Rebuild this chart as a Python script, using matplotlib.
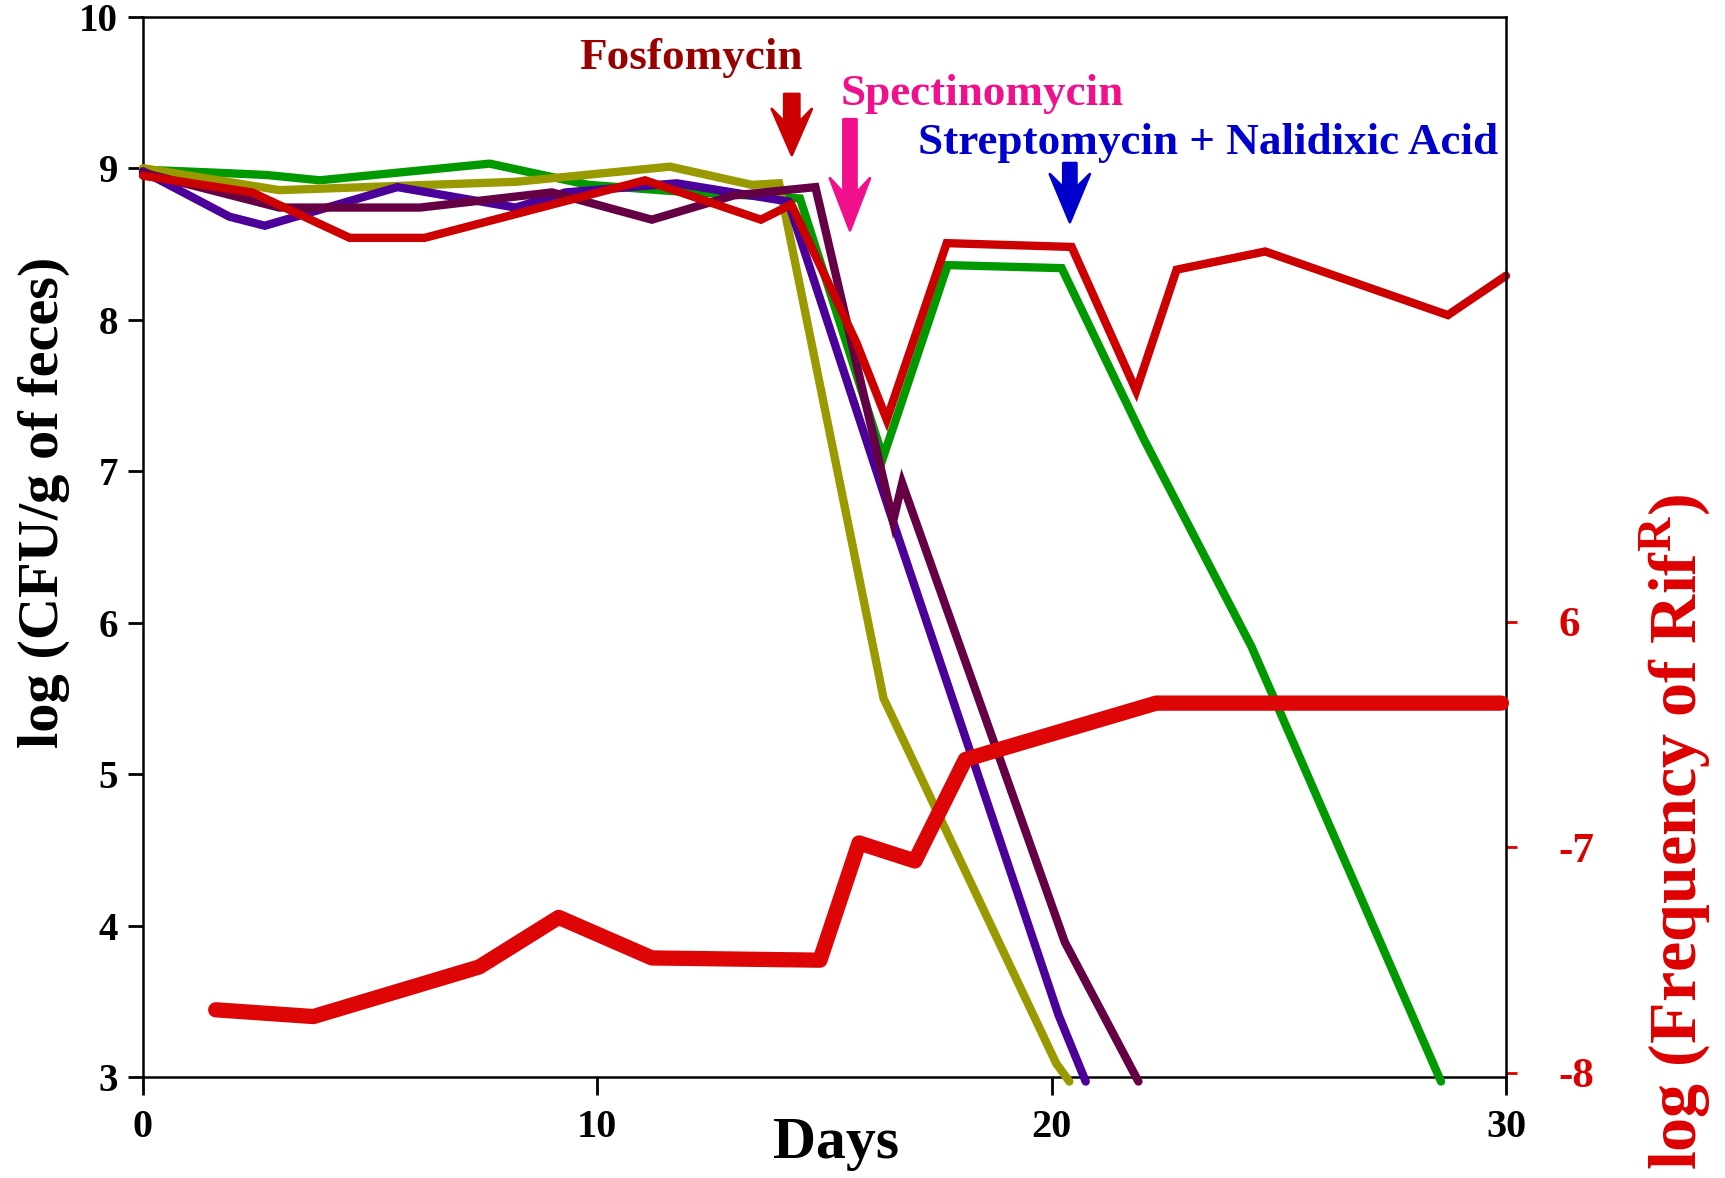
import matplotlib
matplotlib.use("Agg")
import matplotlib.pyplot as plt
import matplotlib.transforms as mtrans
from matplotlib.patches import FancyArrow

plt.rcParams['font.family'] = ['Liberation Serif', 'DejaVu Serif']
plt.rcParams['font.weight'] = 'bold'
plt.rcParams['mathtext.fontset'] = 'custom'
plt.rcParams['mathtext.rm'] = 'Liberation Serif:bold'
plt.rcParams['mathtext.bf'] = 'Liberation Serif:bold'

# --- data ---
green_days = [0, 1.62, 2.72, 3.89, 7.63, 9.8, 11.6, 14.46, 16.29, 17.71, 20.22, 22.03, 24.4, 28.57]
green_cfu = [8.99, 8.97, 8.955, 8.92, 9.03, 8.89, 8.85, 8.80, 7.09, 8.36, 8.34, 7.21, 5.84, 2.97]

olive_days = [0, 3.0, 8.2, 11.6, 13.4, 14.0, 16.3, 20.1, 20.39]
olive_cfu = [9.0, 8.855, 8.91, 9.01, 8.89, 8.9, 5.5, 3.09, 2.97]

purple_days = [0, 1.9, 2.68, 5.6, 8.2, 9.3, 11.75, 14.2, 16.46, 20.15, 20.75]
purple_cfu = [8.98, 8.68, 8.62, 8.875, 8.74, 8.84, 8.9, 8.78, 6.71, 3.41, 2.97]

maroon_days = [0, 3.0, 6.1, 9.0, 11.2, 13.0, 14.8, 16.51, 16.71, 20.29, 21.91]
maroon_cfu = [8.97, 8.74, 8.74, 8.84, 8.66, 8.82, 8.875, 6.67, 6.92, 3.89, 2.97]

red_days = [0, 2.4, 4.55, 6.2, 11.05, 13.6, 14.27, 15.7, 16.37, 17.69, 20.44, 21.86, 22.75, 24.7, 28.72, 30]
red_cfu = [8.95, 8.84, 8.54, 8.54, 8.92, 8.66, 8.76, 7.85, 7.34, 8.505, 8.48, 7.53, 8.33, 8.45, 8.03, 8.29]

rif_days = [1.6, 3.75, 7.4, 9.15, 11.2, 14.9, 15.76, 16.99, 18.1, 22.3, 29.9]
rif_freq = [-7.72, -7.75, -7.53, -7.31, -7.49, -7.50, -6.98, -7.06, -6.61, -6.36, -6.36]

left_ticks = [3, 4, 5, 6, 7, 8, 9, 10]
day_ticks = [0, 10, 20, 30]
right_ticks = [-8, -7, -6]
right_labels = ['-8', '-7', '6']

fig = plt.figure(figsize=(17.25, 11.78), dpi=100)
ax = fig.add_axes([143 / 1725, 1 - 1077 / 1178, (1506 - 143) / 1725, (1077 - 16.7) / 1178])

lw = 6
for d, v, c in [(green_days, green_cfu, '#009900'),
                (olive_days, olive_cfu, '#999900'),
                (purple_days, purple_cfu, '#4a0099'),
                (maroon_days, maroon_cfu, '#660044'),
                (red_days, red_cfu, '#cc0000')]:
    ax.plot(d, v, color=c, lw=lw, solid_capstyle='round', solid_joinstyle='miter', clip_on=False, zorder=3)

ax.set_xlim(0, 30)
ax.set_ylim(3, 10)
ax.set_xticks(day_ticks)
ax.set_yticks(left_ticks)
ax.tick_params(axis='y', direction='out', length=11, width=2, pad=7, labelsize=28)
ax.tick_params(axis='x', direction='out', length=13, width=2, pad=10, labelsize=29)
for s in ax.spines.values():
    s.set_linewidth(1.8)
ax.spines['right'].set_visible(False)

ax2 = ax.twinx()
ax2.plot(rif_days, rif_freq, color='#dd0505', lw=11, solid_capstyle='round', solid_joinstyle='round', clip_on=False, zorder=4)
ax2.set_ylim(-8.018, -3.316)
ax2.set_yticks(right_ticks)
ax2.set_yticklabels(right_labels)
ax2.tick_params(axis='y', direction='out', length=8, width=2, color='#dd0000', labelcolor='#dd0000', pad=30, labelsize=31)
for k in ['left', 'top', 'bottom']:
    ax2.spines[k].set_visible(False)
ax2.spines['right'].set_linewidth(1.8)

fig.text(836 / 1725, 1 - 1144 / 1178, 'Days', ha='center', va='center', fontsize=43)
fig.text(44 / 1725, 1 - 502 / 1178, 'log (CFU/g of feces)', rotation=90, ha='center', va='center', fontsize=42)
fig.text(1676 / 1725, 1 - 494 / 1178, r'log (Frequency of Rif$^{\mathbf{R}}$)', rotation=90,
         ha='center', va='top', fontsize=49, color='#dd0000')


def drug_arrow(day, val, length_px, head_len_px, color, shaft_px):
    tr = fig.dpi_scale_trans + mtrans.ScaledTranslation(day, val, ax.transData)
    L = length_px / 100
    arr = FancyArrow(0, L, 0, -L, width=shaft_px / 100, head_width=0.40, head_length=head_len_px / 100,
                     overhang=0.28, length_includes_head=True, transform=tr, facecolor=color,
                     edgecolor=color, lw=2, joinstyle='round', clip_on=False, zorder=5)
    ax.add_patch(arr)


drug_arrow(14.28, 9.087, 61, 46, '#cc0000', 15)
drug_arrow(15.56, 8.59, 111, 52, '#f0108c', 13)
drug_arrow(20.40, 8.644, 59, 48, '#0000cc', 13)

ax.text(12.06, 9.655, 'Fosfomycin', ha='center', va='baseline', fontsize=32.5, color='#990000', zorder=6)
ax.text(18.48, 9.42, 'Spectinomycin', ha='center', va='baseline', fontsize=32.5, color='#f0108c', zorder=6)
ax.text(23.44, 9.094, 'Streptomycin + Nalidixic Acid', ha='center', va='baseline', fontsize=32.5,
        color='#0000cc', zorder=6)

fig.savefig('out.png', dpi=100)
